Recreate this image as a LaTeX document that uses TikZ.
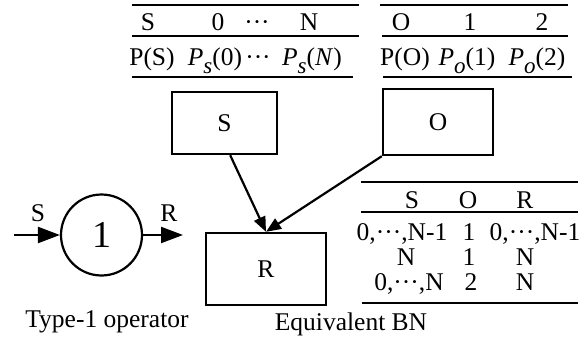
\documentclass[tikz,border=0pt]{standalone}
\usepackage{fontspec}
\setmainfont{Liberation Serif}
\usetikzlibrary{arrows.meta,positioning}
\tikzset{
  varbox/.style={draw, line width=2.4pt, inner sep=0pt},
  tabrule/.style={line width=2.6pt},
  cell/.style={anchor=base, inner sep=0pt},
  link/.style={line width=2.2pt, -{Triangle[length=15pt,width=12pt]}},
  flow/.style={line width=2.2pt, -{Triangle[length=22pt,width=16pt]}},
}
\newcommand{\prob}[2]{\textit{P}\raisebox{-7.5pt}{\fontsize{23}{23}\selectfont\textit{#1}}(#2)}

\begin{document}
\begin{tikzpicture}[x=1pt, y=-1pt, every node/.style={font=\fontsize{25.5}{28}\selectfont}]
  \useasboundingbox (0,0) rectangle (587,337);
  % prior tables
  \draw[tabrule] (132,5) -- (359,5);
  \draw[tabrule] (132,36) -- (359,36);
  \draw[tabrule] (132,77) -- (353,77);
  \draw[tabrule] (380,5) -- (568,5);
  \draw[tabrule] (382,36) -- (568,36);
  \draw[tabrule] (383,77) -- (572,77);
  \foreach \x/\t [count=\k] in {148/S, 218/0, 257/···, 309/N}
    \node[cell] (shead-\k) at (\x,31) {\t};
  \foreach \x/\t [count=\k] in {152/P(S), 215/\prob{s}{0}, 258/···, 312/\prob{s}{\textit{N}}}
    \node[cell] (sprob-\k) at (\x,66) {\t};
  \foreach \x/\t [count=\k] in {401/O, 470/1, 542/2}
    \node[cell] (ohead-\k) at (\x,31) {\t};
  \foreach \x/\t [count=\k] in {405/P(O), 467/\prob{o}{1}, 537/\prob{o}{2}}
    \node[cell] (oprob-\k) at (\x,66) {\t};

  % equivalent BN
  \node[varbox, minimum width=105pt, minimum height=62pt] (sbox) at (224.5,123) {S};
  \node[varbox, minimum width=110pt, minimum height=66pt] (obox) at (438,122) {O};
  \node[varbox, minimum width=120pt, minimum height=72pt] (rbox) at (266,269) {R};
  \draw[link] (sbox.-80) -- (rbox.north);
  \draw[link] (obox.south west) -- (rbox.north);
  \node[cell] (bnlabel) at (351,330) {Equivalent BN};

  % conditional table
  \draw[tabrule] (361,182) -- (578,182);
  \draw[tabrule] (361,212) -- (578,212);
  \draw[tabrule] (362,303) -- (578,303);
  \foreach \x/\y/\t [count=\k] in {412/208/S, 468/208/O, 525/208/R,
      402/240/{0,···,N-1}, 469/240/1, 535/240/{0,···,N-1},
      406/265/N, 469/265/1, 525/265/N,
      409/290/{0,···,N}, 471/290/2, 525/290/N}
    \node[cell] (cpt-\k) at (\x,\y) {\t};

  % operator
  \node[circle, draw, line width=2.2pt, minimum size=81pt, inner sep=0pt,
        font=\fontsize{38}{40}\selectfont] (op) at (101.5,235) {1};
  \coordinate (in) at (14,235);
  \coordinate (out) at (183,235);
  \draw[flow] (in) -- (op);
  \draw[flow] (op) -- (out);
  \node[cell] (inlabel) at (38,221) {S};
  \node[cell] (outlabel) at (169,221) {R};
  \node[cell] (oplabel) at (107,327) {Type-1 operator};
\end{tikzpicture}
\end{document}
